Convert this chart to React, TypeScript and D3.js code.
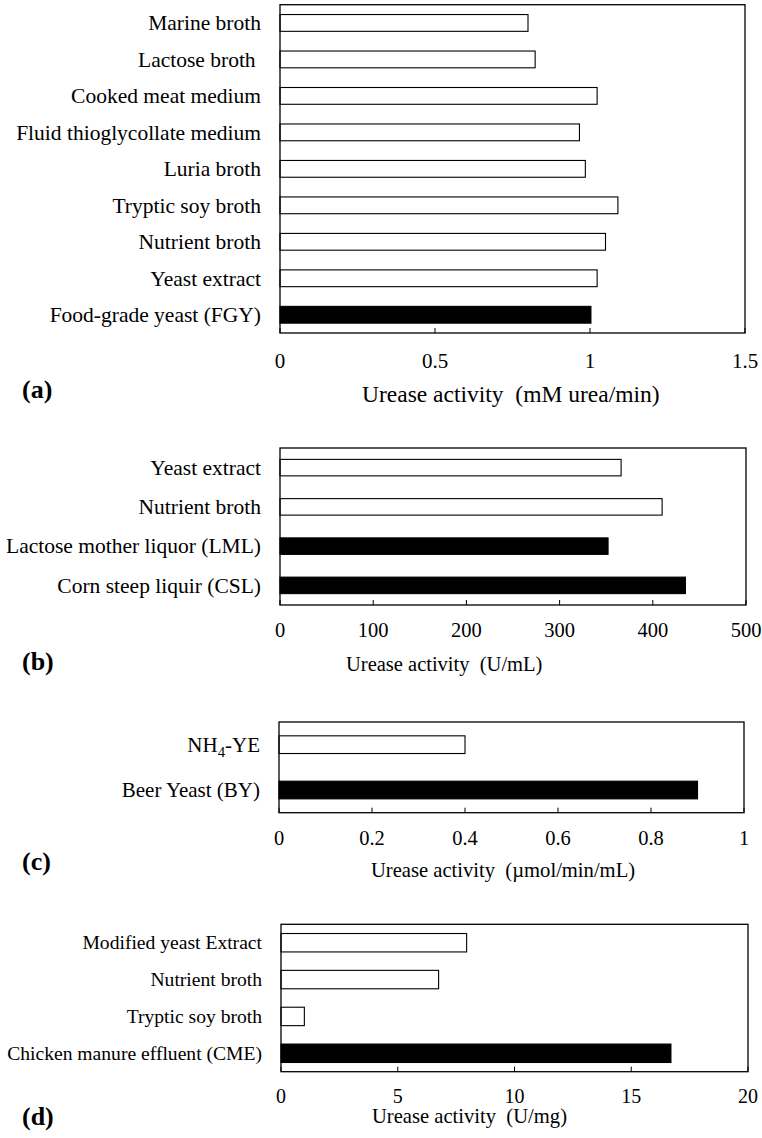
import React from "react";
import * as d3 from "d3";

// (a) mM urea/min
const mediaA = [
  "Marine broth",
  "Lactose broth ",
  "Cooked meat medium",
  "Fluid thioglycollate medium",
  "Luria broth",
  "Tryptic soy broth",
  "Nutrient broth",
  "Yeast extract",
  "Food-grade yeast (FGY)",
];
const activityA = [0.8, 0.823, 1.023, 0.966, 0.985, 1.09, 1.05, 1.023, 1.003];
const filledA = [false, false, false, false, false, false, false, false, true];
const ticksA = [0, 0.5, 1, 1.5];

// (b) U/mL
const mediaB = ["Yeast extract", "Nutrient broth", "Lactose mother liquor (LML)", "Corn steep liquir (CSL)"];
const activityB = [366, 410, 352, 435];
const filledB = [false, false, true, true];
const ticksB = [0, 100, 200, 300, 400, 500];

// (c) µmol/min/mL
const mediaC = ["NH4-YE", "Beer Yeast (BY)"];
const activityC = [0.4, 0.9];
const filledC = [false, true];
const ticksC = [0, 0.2, 0.4, 0.6, 0.8, 1];

// (d) U/mg
const mediaD = ["Modified yeast Extract", "Nutrient broth", "Tryptic soy broth", "Chicken manure effluent (CME)"];
const activityD = [7.95, 6.75, 1.0, 16.7];
const filledD = [false, false, false, true];
const ticksD = [0, 5, 10, 15, 20];

const FONT = "'Liberation Serif', 'Times New Roman', serif";

const Label = ({ name }: { name: string }) => {
  // NH4 gets a subscript
  if (name === "NH4-YE") {
    return (
      <>
        NH<tspan fontSize="0.7em" dy={5}>4</tspan>
        <tspan dy={-5}>-YE</tspan>
      </>
    );
  }
  return <>{name}</>;
};

const Panel = ({ tag, title, media, values, filled, ticks, domain, layout }) => {
  const { left, right, top, bottom, pad, labelSize, tickSize, tickY, titleX, titleY, titleSize, tagY } = layout;
  const x = d3.scaleLinear().domain(domain).range([left, right]);
  const y = d3.scaleBand<string>().domain(media).range([top, bottom]).paddingInner(pad).paddingOuter(pad / 2);

  return (
    <g fontFamily={FONT} fill="#000">
      {media.map((m, i) => (
        <g key={m}>
          <rect
            x={x(0)}
            y={y(m)}
            width={x(values[i]) - x(0)}
            height={y.bandwidth()}
            fill={filled[i] ? "#000" : "#fff"}
            stroke="#000"
            strokeWidth={1.1}
          />
          <text
            x={left - 19}
            y={(y(m) ?? 0) + y.bandwidth() / 2}
            dy="0.34em"
            textAnchor="end"
            fontSize={labelSize}
            style={{ whiteSpace: "pre" }}
          >
            <Label name={m} />
          </text>
        </g>
      ))}
      <rect x={left} y={top} width={right - left} height={bottom - top} fill="none" stroke="#000" strokeWidth={1.3} />
      {ticks.map((t) => (
        <g key={t}>
          <line x1={x(t)} x2={x(t)} y1={bottom} y2={bottom - 5} stroke="#000" strokeWidth={1} />
          <text x={x(t)} y={tickY} textAnchor="middle" fontSize={tickSize}>
            {String(t)}
          </text>
        </g>
      ))}
      <text x={titleX} y={titleY} fontSize={titleSize} style={{ whiteSpace: "pre" }}>
        {title}
      </text>
      <text x={22} y={tagY} fontSize={26} fontWeight="bold">
        {tag}
      </text>
    </g>
  );
};

export default function App() {
  return (
    <svg width={762} height={1138} style={{ position: "absolute", left: 0, top: 0, background: "#fff" }}>
      <rect width={762} height={1138} fill="#fff" />
      <Panel
        tag="(a)"
        title="Urease activity  (mM urea/min)"
        media={mediaA}
        values={activityA}
        filled={filledA}
        ticks={ticksA}
        domain={[0, 1.5]}
        layout={{ left: 280, right: 745, top: 4.7, bottom: 333, pad: 0.54, labelSize: 21.5, tickSize: 21, tickY: 368, titleX: 362, titleY: 402, titleSize: 23.5, tagY: 398 }}
      />
      <Panel
        tag="(b)"
        title="Urease activity  (U/mL)"
        media={mediaB}
        values={activityB}
        filled={filledB}
        ticks={ticksB}
        domain={[0, 500]}
        layout={{ left: 280, right: 746, top: 448, bottom: 605, pad: 0.58, labelSize: 21.5, tickSize: 20.5, tickY: 637, titleX: 346, titleY: 671, titleSize: 20.5, tagY: 670 }}
      />
      <Panel
        tag="(c)"
        title="Urease activity  (µmol/min/mL)"
        media={mediaC}
        values={activityC}
        filled={filledC}
        ticks={ticksC}
        domain={[0, 1]}
        layout={{ left: 279, right: 744, top: 722, bottom: 812.7, pad: 0.61, labelSize: 21, tickSize: 20.5, tickY: 845, titleX: 371, titleY: 877, titleSize: 20.6, tagY: 870 }}
      />
      <Panel
        tag="(d)"
        title="Urease activity  (U/mg)"
        media={mediaD}
        values={activityD}
        filled={filledD}
        ticks={ticksD}
        domain={[0, 20]}
        layout={{ left: 281, right: 748, top: 924.3, bottom: 1071.7, pad: 0.5, labelSize: 19.6, tickSize: 20, tickY: 1103, titleX: 372, titleY: 1123, titleSize: 20.6, tagY: 1125 }}
      />
    </svg>
  );
}
